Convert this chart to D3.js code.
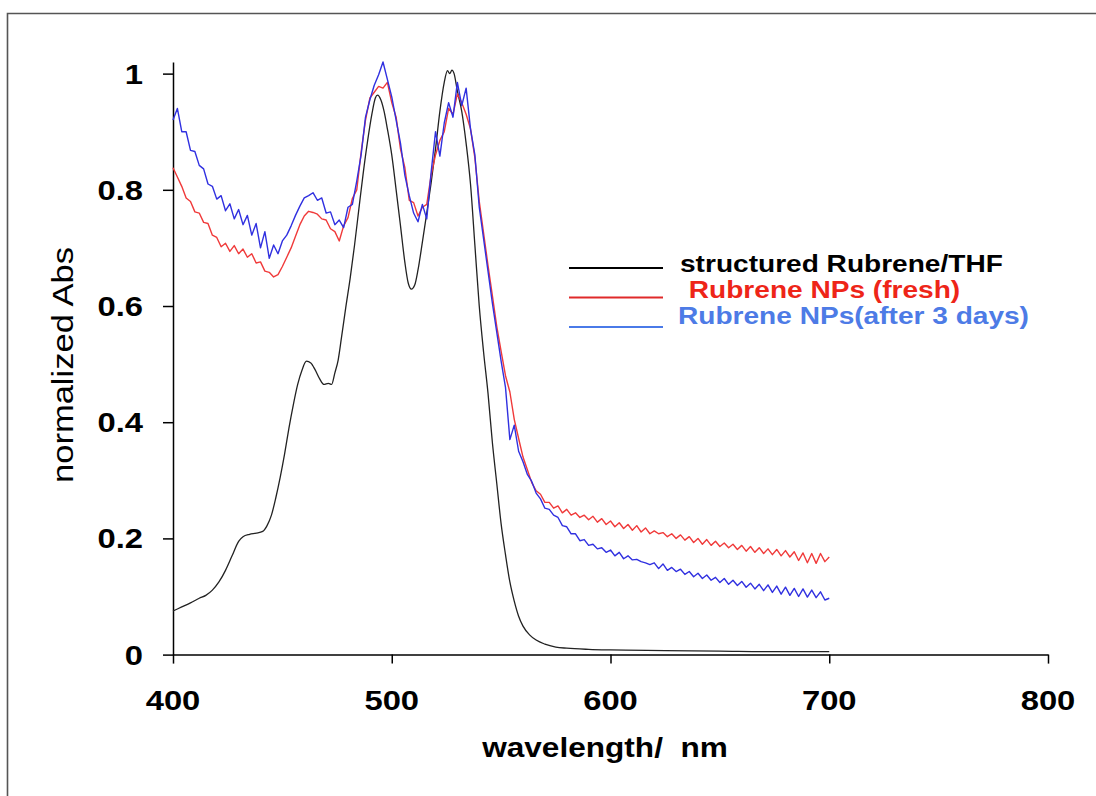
<!DOCTYPE html>
<html>
<head>
<meta charset="utf-8">
<script src="https://cdn.jsdelivr.net/npm/d3@7"></script>
<style>
  html, body { margin: 0; padding: 0; background: #fff; overflow: hidden; }
  svg { display: block; }
</style>
</head>
<body>
<div id="chart"></div>
<script>
// tick values
const wavelengthTicks = [400, 500, 600, 700, 800];
const absTicks = [0, 0.2, 0.4, 0.6, 0.8, 1];

// structured Rubrene/THF, [nm, abs]
const thfSeries = [
  [400,0.075],[404,0.082],[408,0.089],[412,0.097],[415,0.102],[418,0.111],[421,0.125],[424,0.145],
  [427,0.170],[430,0.195],[432,0.203],[435,0.207],[438,0.209],[441,0.212],[443,0.222],[445,0.240],
  [447,0.270],[449,0.305],[451,0.345],[453,0.390],[455,0.430],[457,0.465],[459,0.490],[461,0.505],
  [463,0.502],[465,0.490],[467,0.475],[469,0.465],[471,0.467],[472.5,0.465],[474,0.485],[475.5,0.507],
  [477,0.545],[479,0.598],[481,0.648],[483,0.705],[485,0.768],[487,0.830],[489,0.885],[491,0.932],
  [492.5,0.958],[493.5,0.963],[495,0.955],[496.5,0.935],[498,0.905],[500,0.860],[502,0.800],[504,0.738],
  [506,0.675],[507.5,0.640],[509,0.629],[510.5,0.636],[512,0.662],[514,0.710],[516,0.760],[518,0.812],
  [520,0.870],[522,0.935],[524,0.985],[525.5,1.005],[526.5,1.000],[527.5,1.006],[528.5,1.000],[530,0.970],
  [532,0.935],[534,0.880],[536,0.810],[538,0.705],[540,0.600],[542,0.520],[544,0.450],[546,0.365],
  [548,0.295],[550,0.225],[552,0.172],[554,0.125],[556,0.092],[558,0.066],[560,0.049],[563,0.034],
  [566,0.025],[570,0.018],[575,0.013],[580,0.011],[590,0.009],[600,0.008],[625,0.007],[650,0.006],
  [675,0.005],[700,0.005]
];

// NP spectra sampled every 2 nm starting at 400 nm
const npStart = 400, npStep = 2;
const freshValues = [
  0.838,0.822,0.806,0.786,0.780,0.762,0.760,0.744,0.742,0.722,
  0.718,0.702,0.708,0.694,0.704,0.690,0.698,0.684,0.690,0.674,
  0.676,0.660,0.658,0.650,0.654,0.668,0.684,0.700,0.720,0.740,
  0.755,0.763,0.761,0.758,0.750,0.748,0.733,0.728,0.712,0.738,
  0.752,0.785,0.800,0.865,0.920,0.958,0.968,0.978,0.975,0.985,
  0.950,0.925,0.870,0.838,0.782,0.778,0.755,0.770,0.775,0.825,
  0.860,0.885,0.900,0.940,0.930,0.965,0.950,0.930,0.905,0.855,
  0.780,0.725,0.670,0.618,0.565,0.522,0.480,0.452,0.405,0.372,
  0.340,0.318,0.296,0.282,0.276,0.262,0.262,0.252,0.256,0.244,
  0.250,0.240,0.244,0.236,0.240,0.232,0.238,0.228,0.234,0.224,
  0.230,0.220,0.227,0.217,0.224,0.214,0.222,0.211,0.218,0.208,
  0.213,0.208,0.210,0.203,0.208,0.200,0.206,0.197,0.203,0.193,
  0.200,0.190,0.198,0.188,0.195,0.186,0.192,0.184,0.190,0.181,
  0.188,0.178,0.186,0.176,0.184,0.174,0.182,0.172,0.181,0.170,
  0.179,0.168,0.177,0.162,0.175,0.158,0.174,0.157,0.174,0.160,
  0.168
];
const agedValues = [
  0.920,0.940,0.900,0.900,0.868,0.866,0.842,0.836,0.810,0.806,
  0.784,0.790,0.764,0.776,0.750,0.766,0.740,0.756,0.722,0.742,
  0.700,0.728,0.682,0.705,0.690,0.712,0.722,0.738,0.756,0.772,
  0.786,0.790,0.795,0.782,0.786,0.760,0.762,0.740,0.748,0.735,
  0.770,0.775,0.815,0.860,0.925,0.955,0.980,0.998,1.020,0.990,
  0.960,0.920,0.880,0.825,0.790,0.760,0.745,0.775,0.750,0.830,
  0.900,0.858,0.915,0.950,0.925,0.985,0.945,0.975,0.905,0.860,
  0.770,0.715,0.660,0.605,0.555,0.505,0.460,0.370,0.395,0.350,
  0.332,0.310,0.298,0.278,0.268,0.252,0.250,0.240,0.236,0.222,
  0.220,0.208,0.208,0.196,0.198,0.188,0.190,0.182,0.184,0.176,
  0.180,0.170,0.176,0.165,0.170,0.163,0.164,0.160,0.158,0.155,
  0.158,0.148,0.156,0.145,0.150,0.143,0.147,0.138,0.143,0.134,
  0.140,0.131,0.137,0.128,0.133,0.124,0.131,0.121,0.128,0.119,
  0.126,0.116,0.123,0.113,0.121,0.110,0.120,0.107,0.118,0.104,
  0.116,0.102,0.114,0.100,0.113,0.099,0.111,0.098,0.108,0.094,
  0.097
];

const legendItems = [
  { label: "structured Rubrene/THF", line: "#000000", text: "#000000" },
  { label: " Rubrene NPs (fresh)", line: "#e02a2a", text: "#ee2518" },
  { label: "Rubrene NPs(after 3 days)", line: "#4a7ae8", text: "#4d7be6" }
];

const WIDTH = 1096, HEIGHT = 796;
const STRETCH = 1.17; // text in the original is a bit wide

const svg = d3.select("#chart").append("svg")
  .attr("width", WIDTH)
  .attr("height", HEIGHT);

// frame: only the top and left edges are inside the picture
svg.append("path")
  .attr("d", `M7.5,${HEIGHT}V13.5H${WIDTH}`)
  .attr("fill", "none")
  .attr("stroke", "#555")
  .attr("stroke-width", 1.6);

const x = d3.scaleLinear().domain([400, 800]).range([173, 1048]);
const y = d3.scaleLinear().domain([0, 1.02]).range([654.6, 62]);

const fontFam = "'Liberation Sans', Arial, sans-serif";

// axes (lines and ticks only, labels drawn separately)
const yAxis = svg.append("g")
  .attr("transform", `translate(${x(400)},0)`)
  .call(d3.axisLeft(y).tickValues(absTicks).tickSize(10).tickSizeOuter(0).tickFormat(""));
const xAxis = svg.append("g")
  .attr("transform", `translate(0,${y(0)})`)
  .call(d3.axisBottom(x).tickValues(wavelengthTicks).tickSize(9).tickSizeOuter(0).tickFormat(""));
[yAxis, xAxis].forEach(a => {
  a.select(".domain").attr("stroke", "#000").attr("stroke-width", 1.5);
  a.selectAll(".tick line").attr("stroke", "#000").attr("stroke-width", 1.5);
});

function stretchedText(parent, tx, ty, str, opts) {
  const g = parent.append("g")
    .attr("transform", `translate(${tx},${ty}) scale(${STRETCH},1)`);
  return g.append("text")
    .attr("x", 0).attr("y", 0)
    .attr("font-family", fontFam)
    .attr("font-size", opts.size)
    .attr("font-weight", opts.weight || "bold")
    .attr("text-anchor", opts.anchor || "start")
    .attr("fill", opts.fill || "#000")
    .style("white-space", "pre")
    .text(str);
}

absTicks.forEach(v => {
  stretchedText(svg, 143, y(v) + 10, d3.format("")(v), { size: 28, anchor: "end" });
});
wavelengthTicks.forEach(v => {
  stretchedText(svg, x(v), 710, String(v), { size: 28, anchor: "middle" });
});

// axis titles
stretchedText(svg, 605, 757, "wavelength/  nm", { size: 27, anchor: "middle" });

svg.append("text")
  .attr("transform", "translate(73,365) rotate(-90)")
  .attr("font-family", fontFam)
  .attr("font-size", 29)
  .attr("text-anchor", "middle")
  .attr("fill", "#000")
  .attr("textLength", 236)
  .attr("lengthAdjust", "spacingAndGlyphs")
  .text("normalized Abs");

// series
const toPairs = vals => vals.map((v, i) => [npStart + i * npStep, v]);

const smoothLine = d3.line()
  .x(d => x(d[0])).y(d => y(d[1]))
  .curve(d3.curveMonotoneX);
const rawLine = d3.line()
  .x(d => x(d[0])).y(d => y(d[1]));

svg.append("path")
  .datum(thfSeries)
  .attr("d", smoothLine)
  .attr("fill", "none")
  .attr("stroke", "#222")
  .attr("stroke-width", 1.3);

svg.append("path")
  .datum(toPairs(freshValues))
  .attr("d", rawLine)
  .attr("fill", "none")
  .attr("stroke", "#f03a3a")
  .attr("stroke-width", 1.4)
  .attr("stroke-linejoin", "round");

svg.append("path")
  .datum(toPairs(agedValues))
  .attr("d", rawLine)
  .attr("fill", "none")
  .attr("stroke", "#3030e0")
  .attr("stroke-width", 1.4)
  .attr("stroke-linejoin", "round");

// legend
const legendLineY = [268, 297.5, 327];
const legendTextPos = [[680, 272], [681, 298], [678, 324]];
legendItems.forEach((item, i) => {
  svg.append("line")
    .attr("x1", 569).attr("x2", 663)
    .attr("y1", legendLineY[i]).attr("y2", legendLineY[i])
    .attr("stroke", item.line)
    .attr("stroke-width", 2.2);
  stretchedText(svg, legendTextPos[i][0], legendTextPos[i][1], item.label,
    { size: 24, fill: item.text });
});
</script>
</body>
</html>
